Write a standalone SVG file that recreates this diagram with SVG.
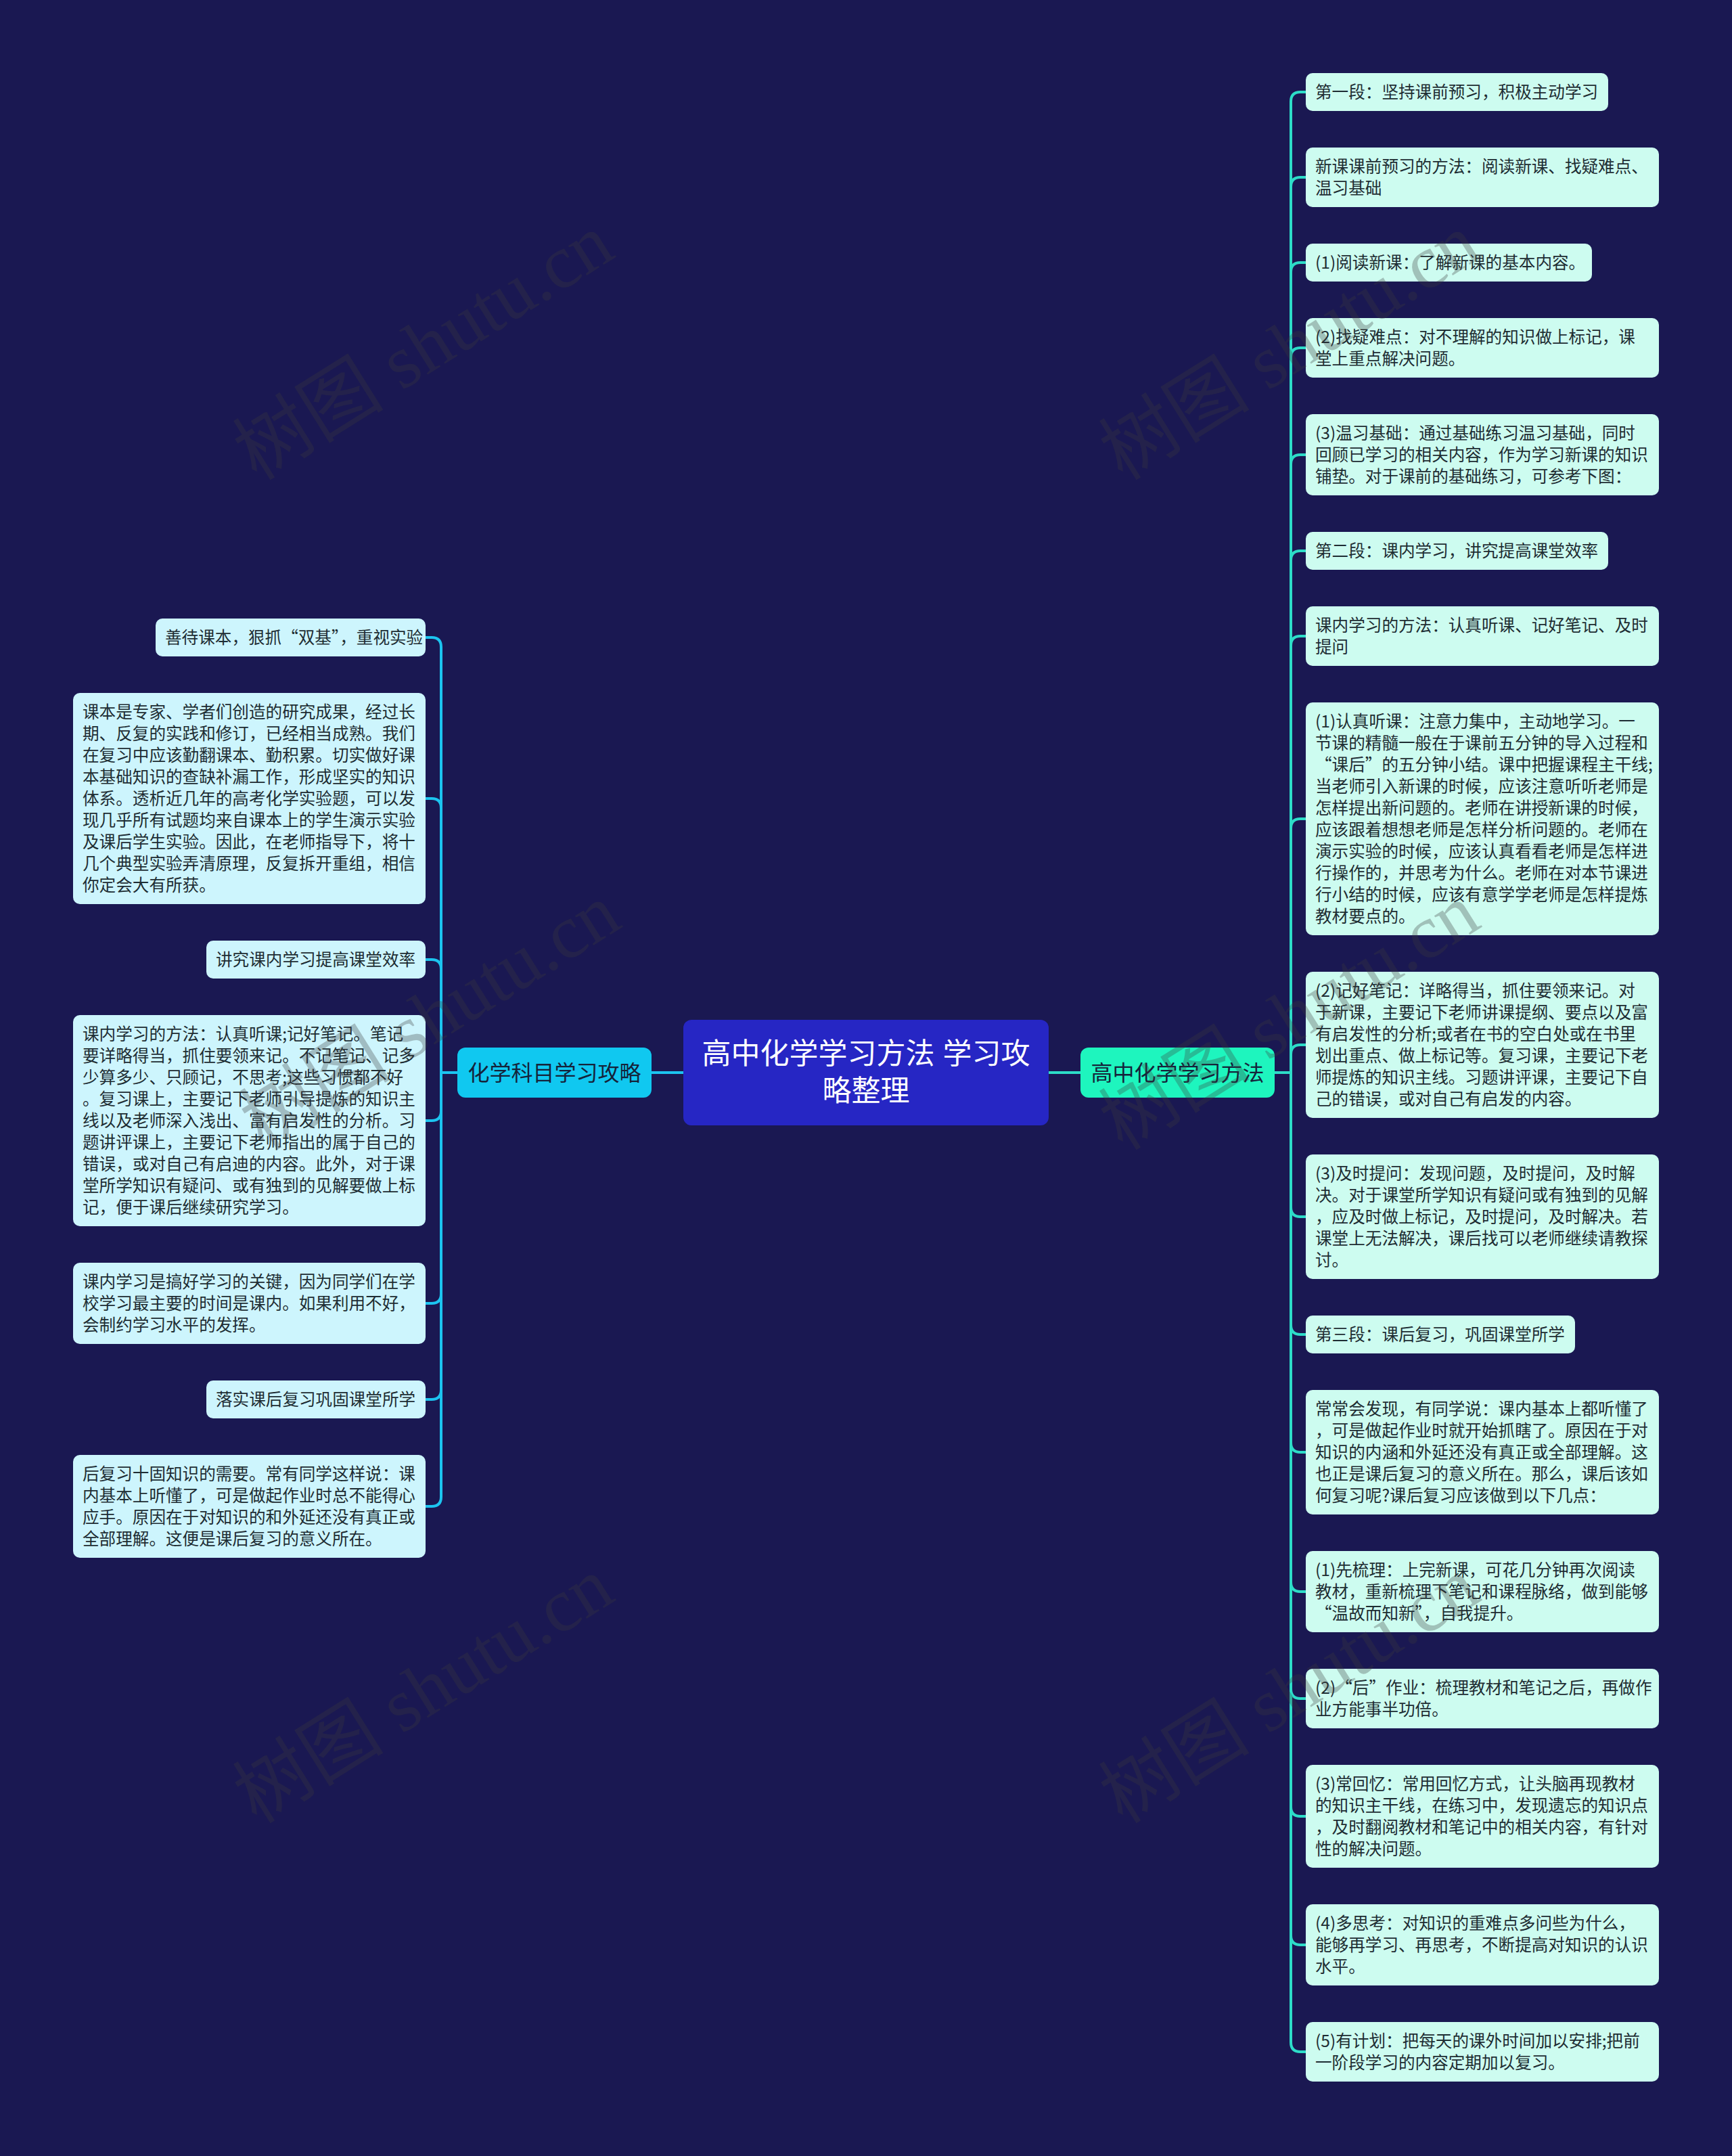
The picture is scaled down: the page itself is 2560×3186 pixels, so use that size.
<svg xmlns="http://www.w3.org/2000/svg" width="2560" height="3186" viewBox="0 0 2560 3186">
<style>
.bg{fill:#1a1852}
.t{font-family:'Noto Sans CJK SC','Noto Sans',sans-serif;font-size:24.6px;fill:#1e2d33}
.rb{fill:#cdfcf0}
.lb{fill:#cdf5fd}
.cl{fill:none;stroke:#1cc4f0;stroke-width:4}
.cr{fill:none;stroke:#2ddcc8;stroke-width:4}
.main{font-family:'Noto Sans CJK SC','Noto Sans',sans-serif;font-size:32px;fill:#15233a;text-anchor:middle}
.title{font-family:'Liberation Sans','Noto Sans CJK SC',sans-serif;font-size:43px;fill:#ffffff;text-anchor:middle}
.wm{font-family:'Liberation Serif','Noto Sans CJK SC',serif;font-size:112px;fill:#3c3c3c;opacity:0.3;text-anchor:middle}
</style>
<rect class="bg" x="0" y="0" width="2560" height="3186"/>
<g id="connectors">
<path class="cl" d="M1010 1585H963"/>
<path class="cr" d="M1550 1585H1597"/>
<path class="cr" d="M1884 1585H1908V150Q1908 136 1922 136H1930"/>
<path class="cr" d="M1884 1585H1908V276Q1908 262 1922 262H1930"/>
<path class="cr" d="M1884 1585H1908V402Q1908 388 1922 388H1930"/>
<path class="cr" d="M1884 1585H1908V528Q1908 514 1922 514H1930"/>
<path class="cr" d="M1884 1585H1908V686Q1908 672 1922 672H1930"/>
<path class="cr" d="M1884 1585H1908V828Q1908 814 1922 814H1930"/>
<path class="cr" d="M1884 1585H1908V954Q1908 940 1922 940H1930"/>
<path class="cr" d="M1884 1585H1908V1224Q1908 1210 1922 1210H1930"/>
<path class="cr" d="M1884 1585H1908V1558Q1908 1544 1922 1544H1930"/>
<path class="cr" d="M1884 1585H1908V1784Q1908 1798 1922 1798H1930"/>
<path class="cr" d="M1884 1585H1908V1958Q1908 1972 1922 1972H1930"/>
<path class="cr" d="M1884 1585H1908V2132Q1908 2146 1922 2146H1930"/>
<path class="cr" d="M1884 1585H1908V2338Q1908 2352 1922 2352H1930"/>
<path class="cr" d="M1884 1585H1908V2496Q1908 2510 1922 2510H1930"/>
<path class="cr" d="M1884 1585H1908V2670Q1908 2684 1922 2684H1930"/>
<path class="cr" d="M1884 1585H1908V2860Q1908 2874 1922 2874H1930"/>
<path class="cr" d="M1884 1585H1908V3018Q1908 3032 1922 3032H1930"/>
<path class="cl" d="M676 1585H652V956Q652 942 638 942H629"/>
<path class="cl" d="M676 1585H652V1194Q652 1180 638 1180H629"/>
<path class="cl" d="M676 1585H652V1432Q652 1418 638 1418H629"/>
<path class="cl" d="M676 1585H652V1642Q652 1656 638 1656H629"/>
<path class="cl" d="M676 1585H652V1912Q652 1926 638 1926H629"/>
<path class="cl" d="M676 1585H652V2054Q652 2068 638 2068H629"/>
<path class="cl" d="M676 1585H652V2212Q652 2226 638 2226H629"/>
</g>
<g id="root">
<rect x="1010" y="1507" width="540" height="156" rx="12" fill="#2626c4"/>
<text class="title" x="1280" y="1572">高中化学学习方法 学习攻</text>
<text class="title" x="1280" y="1627">略整理</text>
</g>
<g id="main-left">
<rect x="676" y="1548" width="287" height="74" rx="12" fill="#10c8f0"/>
<text class="main" x="819.5" y="1597">化学科目学习攻略</text>
</g>
<g id="main-right">
<rect x="1597" y="1548" width="287" height="74" rx="12" fill="#1ef5be"/>
<text class="main" x="1740.5" y="1597">高中化学学习方法</text>
</g>
<g id="r1"><rect class="rb" x="1930" y="108" width="447" height="56" rx="10"/><text class="t" x="1944" y="145">第一段：坚持课前预习，积极主动学习</text></g>
<g id="r2"><rect class="rb" x="1930" y="218" width="522" height="88" rx="10"/><text class="t"><tspan x="1944" y="255">新课课前预习的方法：阅读新课、找疑难点、</tspan><tspan x="1944" dy="32">温习基础</tspan></text></g>
<g id="r3"><rect class="rb" x="1930" y="360" width="423" height="56" rx="10"/><text class="t" x="1944" y="397">(1)阅读新课：了解新课的基本内容。</text></g>
<g id="r4"><rect class="rb" x="1930" y="470" width="522" height="88" rx="10"/><text class="t"><tspan x="1944" y="507">(2)找疑难点：对不理解的知识做上标记，课</tspan><tspan x="1944" dy="32">堂上重点解决问题。</tspan></text></g>
<g id="r5"><rect class="rb" x="1930" y="612" width="522" height="120" rx="10"/><text class="t"><tspan x="1944" y="649">(3)温习基础：通过基础练习温习基础，同时</tspan><tspan x="1944" dy="32">回顾已学习的相关内容，作为学习新课的知识</tspan><tspan x="1944" dy="32">铺垫。对于课前的基础练习，可参考下图：</tspan></text></g>
<g id="r6"><rect class="rb" x="1930" y="786" width="447" height="56" rx="10"/><text class="t" x="1944" y="823">第二段：课内学习，讲究提高课堂效率</text></g>
<g id="r7"><rect class="rb" x="1930" y="896" width="522" height="88" rx="10"/><text class="t"><tspan x="1944" y="933">课内学习的方法：认真听课、记好笔记、及时</tspan><tspan x="1944" dy="32">提问</tspan></text></g>
<g id="r8"><rect class="rb" x="1930" y="1038" width="522" height="344" rx="10"/><text class="t"><tspan x="1944" y="1075">(1)认真听课：注意力集中，主动地学习。一</tspan><tspan x="1944" dy="32">节课的精髓一般在于课前五分钟的导入过程和</tspan><tspan x="1944" dy="32">“课后”的五分钟小结。课中把握课程主干线;</tspan><tspan x="1944" dy="32">当老师引入新课的时候，应该注意听听老师是</tspan><tspan x="1944" dy="32">怎样提出新问题的。老师在讲授新课的时候，</tspan><tspan x="1944" dy="32">应该跟着想想老师是怎样分析问题的。老师在</tspan><tspan x="1944" dy="32">演示实验的时候，应该认真看看老师是怎样进</tspan><tspan x="1944" dy="32">行操作的，并思考为什么。老师在对本节课进</tspan><tspan x="1944" dy="32">行小结的时候，应该有意学学老师是怎样提炼</tspan><tspan x="1944" dy="32">教材要点的。</tspan></text></g>
<g id="r9"><rect class="rb" x="1930" y="1436" width="522" height="216" rx="10"/><text class="t"><tspan x="1944" y="1473">(2)记好笔记：详略得当，抓住要领来记。对</tspan><tspan x="1944" dy="32">于新课，主要记下老师讲课提纲、要点以及富</tspan><tspan x="1944" dy="32">有启发性的分析;或者在书的空白处或在书里</tspan><tspan x="1944" dy="32">划出重点、做上标记等。复习课，主要记下老</tspan><tspan x="1944" dy="32">师提炼的知识主线。习题讲评课，主要记下自</tspan><tspan x="1944" dy="32">己的错误，或对自己有启发的内容。</tspan></text></g>
<g id="r10"><rect class="rb" x="1930" y="1706" width="522" height="184" rx="10"/><text class="t"><tspan x="1944" y="1743">(3)及时提问：发现问题，及时提问，及时解</tspan><tspan x="1944" dy="32">决。对于课堂所学知识有疑问或有独到的见解</tspan><tspan x="1944" dy="32">，应及时做上标记，及时提问，及时解决。若</tspan><tspan x="1944" dy="32">课堂上无法解决，课后找可以老师继续请教探</tspan><tspan x="1944" dy="32">讨。</tspan></text></g>
<g id="r11"><rect class="rb" x="1930" y="1944" width="398" height="56" rx="10"/><text class="t" x="1944" y="1981">第三段：课后复习，巩固课堂所学</text></g>
<g id="r12"><rect class="rb" x="1930" y="2054" width="522" height="184" rx="10"/><text class="t"><tspan x="1944" y="2091">常常会发现，有同学说：课内基本上都听懂了</tspan><tspan x="1944" dy="32">，可是做起作业时就开始抓瞎了。原因在于对</tspan><tspan x="1944" dy="32">知识的内涵和外延还没有真正或全部理解。这</tspan><tspan x="1944" dy="32">也正是课后复习的意义所在。那么，课后该如</tspan><tspan x="1944" dy="32">何复习呢?课后复习应该做到以下几点：</tspan></text></g>
<g id="r13"><rect class="rb" x="1930" y="2292" width="522" height="120" rx="10"/><text class="t"><tspan x="1944" y="2329">(1)先梳理：上完新课，可花几分钟再次阅读</tspan><tspan x="1944" dy="32">教材，重新梳理下笔记和课程脉络，做到能够</tspan><tspan x="1944" dy="32">“温故而知新”，自我提升。</tspan></text></g>
<g id="r14"><rect class="rb" x="1930" y="2466" width="522" height="88" rx="10"/><text class="t"><tspan x="1944" y="2503">(2)“后”作业：梳理教材和笔记之后，再做作</tspan><tspan x="1944" dy="32">业方能事半功倍。</tspan></text></g>
<g id="r15"><rect class="rb" x="1930" y="2608" width="522" height="152" rx="10"/><text class="t"><tspan x="1944" y="2645">(3)常回忆：常用回忆方式，让头脑再现教材</tspan><tspan x="1944" dy="32">的知识主干线，在练习中，发现遗忘的知识点</tspan><tspan x="1944" dy="32">，及时翻阅教材和笔记中的相关内容，有针对</tspan><tspan x="1944" dy="32">性的解决问题。</tspan></text></g>
<g id="r16"><rect class="rb" x="1930" y="2814" width="522" height="120" rx="10"/><text class="t"><tspan x="1944" y="2851">(4)多思考：对知识的重难点多问些为什么，</tspan><tspan x="1944" dy="32">能够再学习、再思考，不断提高对知识的认识</tspan><tspan x="1944" dy="32">水平。</tspan></text></g>
<g id="r17"><rect class="rb" x="1930" y="2988" width="522" height="88" rx="10"/><text class="t"><tspan x="1944" y="3025">(5)有计划：把每天的课外时间加以安排;把前</tspan><tspan x="1944" dy="32">一阶段学习的内容定期加以复习。</tspan></text></g>
<g id="l1"><rect class="lb" x="230" y="914" width="399" height="56" rx="10"/><text class="t" x="244" y="951">善待课本，狠抓“双基”，重视实验</text></g>
<g id="l2"><rect class="lb" x="108" y="1024" width="521" height="312" rx="10"/><text class="t"><tspan x="122" y="1061">课本是专家、学者们创造的研究成果，经过长</tspan><tspan x="122" dy="32">期、反复的实践和修订，已经相当成熟。我们</tspan><tspan x="122" dy="32">在复习中应该勤翻课本、勤积累。切实做好课</tspan><tspan x="122" dy="32">本基础知识的查缺补漏工作，形成坚实的知识</tspan><tspan x="122" dy="32">体系。透析近几年的高考化学实验题，可以发</tspan><tspan x="122" dy="32">现几乎所有试题均来自课本上的学生演示实验</tspan><tspan x="122" dy="32">及课后学生实验。因此，在老师指导下，将十</tspan><tspan x="122" dy="32">几个典型实验弄清原理，反复拆开重组，相信</tspan><tspan x="122" dy="32">你定会大有所获。</tspan></text></g>
<g id="l3"><rect class="lb" x="305" y="1390" width="324" height="56" rx="10"/><text class="t" x="319" y="1427">讲究课内学习提高课堂效率</text></g>
<g id="l4"><rect class="lb" x="108" y="1500" width="521" height="312" rx="10"/><text class="t"><tspan x="122" y="1537">课内学习的方法：认真听课;记好笔记。笔记</tspan><tspan x="122" dy="32">要详略得当，抓住要领来记。不记笔记、记多</tspan><tspan x="122" dy="32">少算多少、只顾记，不思考;这些习惯都不好</tspan><tspan x="122" dy="32">。复习课上，主要记下老师引导提炼的知识主</tspan><tspan x="122" dy="32">线以及老师深入浅出、富有启发性的分析。习</tspan><tspan x="122" dy="32">题讲评课上，主要记下老师指出的属于自己的</tspan><tspan x="122" dy="32">错误，或对自己有启迪的内容。此外，对于课</tspan><tspan x="122" dy="32">堂所学知识有疑问、或有独到的见解要做上标</tspan><tspan x="122" dy="32">记，便于课后继续研究学习。</tspan></text></g>
<g id="l5"><rect class="lb" x="108" y="1866" width="521" height="120" rx="10"/><text class="t"><tspan x="122" y="1903">课内学习是搞好学习的关键，因为同学们在学</tspan><tspan x="122" dy="32">校学习最主要的时间是课内。如果利用不好，</tspan><tspan x="122" dy="32">会制约学习水平的发挥。</tspan></text></g>
<g id="l6"><rect class="lb" x="305" y="2040" width="324" height="56" rx="10"/><text class="t" x="319" y="2077">落实课后复习巩固课堂所学</text></g>
<g id="l7"><rect class="lb" x="108" y="2150" width="521" height="152" rx="10"/><text class="t"><tspan x="122" y="2187">后复习十固知识的需要。常有同学这样说：课</tspan><tspan x="122" dy="32">内基本上听懂了，可是做起作业时总不能得心</tspan><tspan x="122" dy="32">应手。原因在于对知识的和外延还没有真正或</tspan><tspan x="122" dy="32">全部理解。这便是课后复习的意义所在。</tspan></text></g>
<g id="watermarks">
<text class="wm" transform="translate(646 545) rotate(-32)">树图 shutu.cn</text>
<text class="wm" transform="translate(1926 545) rotate(-32)">树图 shutu.cn</text>
<text class="wm" transform="translate(656 1535) rotate(-32)">树图 shutu.cn</text>
<text class="wm" transform="translate(1926 1535) rotate(-32)">树图 shutu.cn</text>
<text class="wm" transform="translate(646 2530) rotate(-32)">树图 shutu.cn</text>
<text class="wm" transform="translate(1926 2530) rotate(-32)">树图 shutu.cn</text>
</g>
</svg>
